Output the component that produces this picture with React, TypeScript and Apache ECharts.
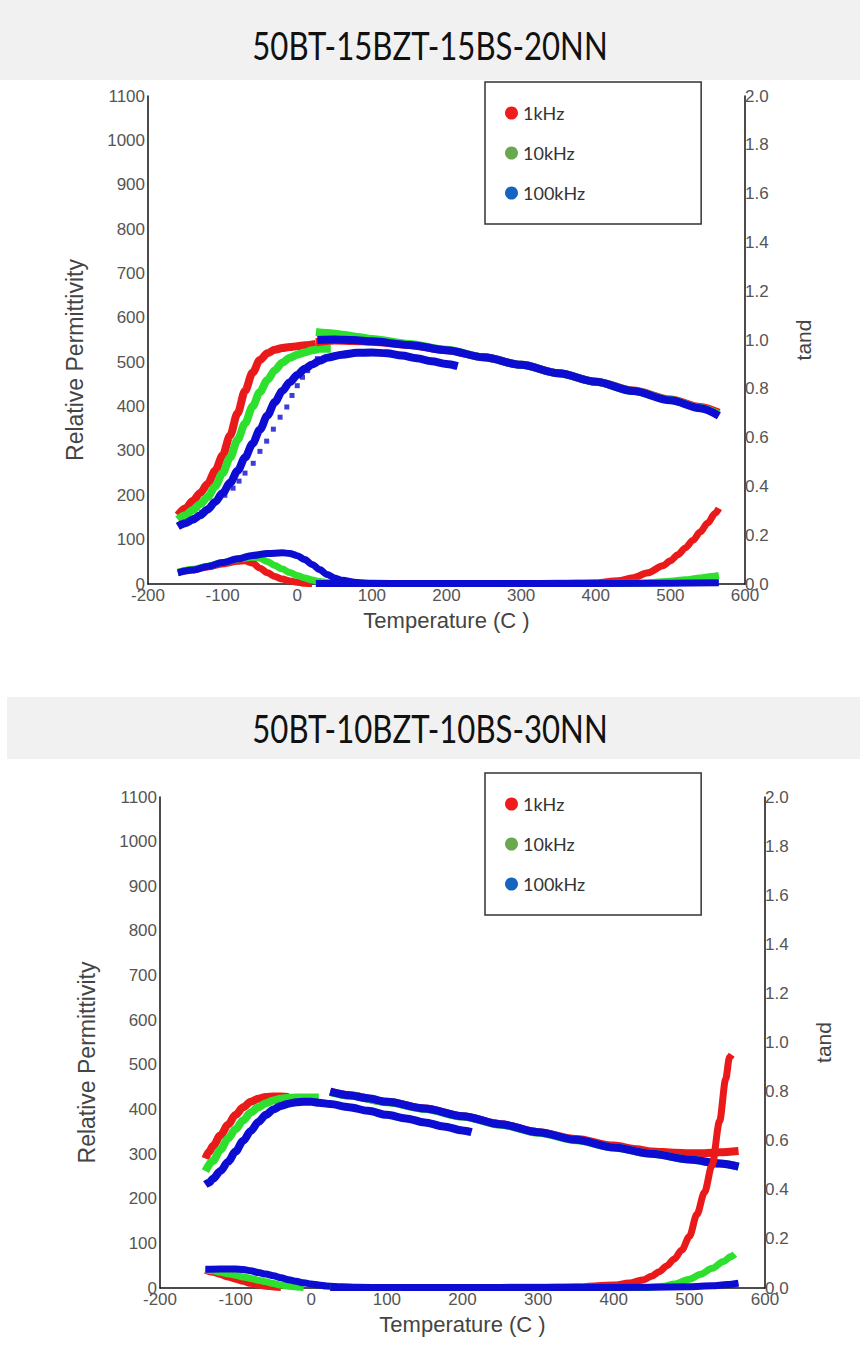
import React, { useEffect, useRef } from "react";
import * as echarts from "echarts";

// ---------- labels ----------
const TITLES = ["50BT-15BZT-15BS-20NN", "50BT-10BZT-10BS-30NN"];
const FREQS = ["1kHz", "10kHz", "100kHz"];
const LINE_COLORS = ["#ea1a1a", "#2ee02e", "#0c0cd2"];
const LEGEND_COLORS = ["#f01c1c", "#6aa84f", "#1565c0"];
const X_NAME = "Temperature (C )";
const Y_LEFT_NAME = "Relative Permittivity";
const Y_RIGHT_NAME = "tand";

// ---------- panel A : 50BT-15BZT-15BS-20NN ----------
const A_PERM_LOW_1K = [[-160,155],[-150,170],[-140,187],[-130,205],[-120,226],[-110,255],[-100,290],[-90,335],[-80,385],[-70,435],[-60,476],[-50,505],[-40,520],[-30,528],[-20,532],[-10,534],[0,536],[10,538],[25,541]];
const A_PERM_LOW_10K = [[-160,145],[-150,155],[-140,167],[-130,180],[-120,196],[-110,220],[-100,250],[-90,285],[-80,325],[-70,362],[-60,400],[-50,433],[-40,460],[-30,482],[-20,499],[-10,510],[0,517],[10,522],[20,527],[30,530],[45,530]];
const A_PERM_LOW_100K = [[-160,130],[-150,137],[-140,145],[-130,155],[-120,168],[-110,185],[-100,205],[-90,228],[-80,255],[-70,285],[-60,316],[-50,348],[-40,380],[-30,410],[-20,435],[-10,455],[0,471],[10,485],[20,495],[30,503],[40,510],[60,517],[80,521],[100,522],[120,520],[140,515],[160,509],[180,502],[200,496],[215,491]];
const A_PERM_DOTS_100K = [[-140,150],[-128,162],[-118,172],[-108,186],[-97,200],[-86,216],[-78,232],[-70,250],[-59,272],[-50,299],[-41,322],[-32,349],[-23,376],[-14,399],[-7,425],[0,447],[7,466],[14,481],[20,496],[27,508]];
const A_PERM_HIGH_1K = [[25,545],[50,549],[75,548],[100,546],[150,539],[200,527],[250,511],[300,494],[350,475],[400,456],[450,436],[500,416],[540,399],[565,386]];
const A_PERM_HIGH_10K = [[25,568],[40,566],[60,562],[80,557],[100,552],[150,541],[200,528],[250,511],[300,494],[350,475],[400,456],[450,435],[500,415],[540,397],[565,382]];
const A_PERM_HIGH_100K = [[27,550],[50,551],[75,550],[100,547],[150,539],[200,527],[250,511],[300,494],[350,475],[400,456],[450,435],[500,414],[540,396],[565,379]];
const A_TAND_LOW_1K = [[-160,0.048],[-140,0.058],[-120,0.07],[-100,0.082],[-80,0.093],[-70,0.095],[-60,0.086],[-50,0.065],[-40,0.046],[-30,0.031],[-20,0.02],[-10,0.012],[0,0.007],[10,0.003],[20,0.001]];
const A_TAND_LOW_10K = [[-160,0.048],[-140,0.06],[-120,0.073],[-100,0.088],[-80,0.102],[-60,0.11],[-50,0.106],[-40,0.092],[-30,0.076],[-20,0.061],[-10,0.047],[0,0.035],[10,0.025],[20,0.016],[30,0.01],[40,0.006],[50,0.003]];
const A_TAND_LOW_100K = [[-160,0.046],[-140,0.057],[-120,0.072],[-100,0.088],[-80,0.103],[-60,0.117],[-40,0.125],[-20,0.128],[-10,0.125],[0,0.116],[10,0.1],[20,0.08],[30,0.059],[40,0.039],[50,0.025],[60,0.015],[80,0.006],[100,0.003],[150,0.002],[215,0.002]];
const A_TAND_HIGH_1K = [[25,0.002],[100,0.002],[200,0.002],[300,0.002],[350,0.003],[400,0.005],[430,0.013],[450,0.026],[470,0.046],[490,0.075],[500,0.095],[510,0.12],[520,0.148],[530,0.178],[540,0.213],[550,0.25],[560,0.29],[565,0.31]];
const A_TAND_HIGH_10K = [[25,0.002],[400,0.002],[460,0.004],[480,0.007],[500,0.011],[520,0.017],[540,0.025],[555,0.031],[565,0.035]];
const A_TAND_HIGH_100K = [[25,0.002],[300,0.002],[500,0.003],[565,0.005]];

// ---------- panel B : 50BT-10BZT-10BS-30NN ----------
const B_PERM_LOW_1K = [[-140,290],[-135,305],[-130,318],[-120,342],[-110,366],[-100,388],[-90,405],[-80,417],[-70,424],[-60,428],[-50,429],[-40,429],[-30,428]];
const B_PERM_LOW_10K = [[-140,262],[-130,285],[-120,310],[-110,335],[-100,356],[-90,376],[-80,393],[-70,405],[-60,414],[-50,420],[-40,424],[-30,426],[-20,427],[-10,427],[0,427],[10,427]];
const B_PERM_LOW_100K = [[-140,232],[-135,236],[-130,245],[-120,262],[-110,283],[-100,306],[-90,330],[-80,352],[-70,372],[-60,388],[-50,400],[-40,408],[-30,413],[-20,416],[-10,417],[0,417],[10,415],[25,412],[50,405],[75,397],[100,388],[125,380],[150,371],[175,362],[200,353],[212,349]];
const B_PERM_HIGH_1K = [[25,440],[50,432],[100,417],[150,402],[200,385],[250,367],[300,349],[350,334],[400,319],[430,311],[450,306],[480,303],[500,302],[520,302],[540,304],[565,307]];
const B_PERM_HIGH_10K = [[25,439],[50,431],[100,416],[150,401],[200,384],[250,366],[300,348],[350,331],[400,315],[450,301],[500,288],[540,279],[565,272]];
const B_PERM_HIGH_100K = [[25,440],[50,432],[75,425],[100,417],[150,402],[200,385],[250,367],[300,349],[350,332],[400,315],[450,301],[500,288],[540,279],[565,272]];
const B_TAND_LOW_1K = [[-140,0.072],[-130,0.064],[-120,0.055],[-110,0.045],[-100,0.036],[-90,0.027],[-80,0.019],[-70,0.012],[-60,0.007],[-50,0.004],[-40,0.002]];
const B_TAND_LOW_10K = [[-140,0.074],[-130,0.07],[-120,0.064],[-110,0.058],[-100,0.052],[-90,0.045],[-80,0.039],[-70,0.032],[-60,0.025],[-50,0.018],[-40,0.012],[-30,0.007],[-20,0.004],[-10,0.002]];
const B_TAND_LOW_100K = [[-140,0.076],[-120,0.077],[-100,0.077],[-90,0.075],[-80,0.07],[-70,0.063],[-60,0.057],[-50,0.05],[-40,0.042],[-30,0.034],[-20,0.027],[-10,0.021],[0,0.016],[10,0.012],[20,0.008],[40,0.005],[60,0.003],[100,0.002],[212,0.002]];
const B_TAND_HIGH_1K = [[25,0.002],[200,0.002],[300,0.003],[350,0.005],[400,0.012],[420,0.02],[440,0.034],[450,0.048],[460,0.066],[470,0.09],[480,0.118],[490,0.155],[500,0.21],[510,0.3],[520,0.39],[530,0.5],[540,0.68],[548,0.85],[553,0.94],[556,0.95]];
const B_TAND_HIGH_10K = [[25,0.002],[440,0.002],[466,0.007],[480,0.016],[500,0.036],[515,0.056],[530,0.08],[545,0.108],[555,0.128],[560,0.138]];
const B_TAND_HIGH_100K = [[25,0.002],[400,0.002],[500,0.005],[530,0.009],[550,0.014],[565,0.02]];

const PANELS = [
  {
    permLow: [A_PERM_LOW_1K, A_PERM_LOW_10K, A_PERM_LOW_100K],
    permHigh: [A_PERM_HIGH_1K, A_PERM_HIGH_10K, A_PERM_HIGH_100K],
    tandLow: [A_TAND_LOW_1K, A_TAND_LOW_10K, A_TAND_LOW_100K],
    tandHigh: [A_TAND_HIGH_1K, A_TAND_HIGH_10K, A_TAND_HIGH_100K],
    dots: A_PERM_DOTS_100K as number[][] | null,
  },
  {
    permLow: [B_PERM_LOW_1K, B_PERM_LOW_10K, B_PERM_LOW_100K],
    permHigh: [B_PERM_HIGH_1K, B_PERM_HIGH_10K, B_PERM_HIGH_100K],
    tandLow: [B_TAND_LOW_1K, B_TAND_LOW_10K, B_TAND_LOW_100K],
    tandHigh: [B_TAND_HIGH_1K, B_TAND_HIGH_10K, B_TAND_HIGH_100K],
    dots: null as number[][] | null,
  },
];

// ---------- layout ----------
const GRIDS = [
  { left: 148, top: 96, width: 597, height: 488 },
  { left: 160, top: 797, width: 605, height: 491 },
];
const BANDS = [
  { y: 0, h: 80, ty: 45 },
  { y: 697, h: 62, ty: 728 },
];
const LEGEND_TOPS = [82, 773];

const LABEL_FONT = "'Liberation Sans', Arial, sans-serif";
const LABEL_COLOR = "#555";

function lineSeries(name: string, color: string, data: number[][], gi: number, yi: number, width = 8) {
  return {
    type: "line",
    name,
    data,
    xAxisIndex: gi,
    yAxisIndex: yi,
    symbol: "none",
    showSymbol: false,
    smooth: 0.3,
    smoothMonotone: "x",
    silent: true,
    lineStyle: { color, width, cap: "butt", join: "round" },
    itemStyle: { color },
  };
}

export default function App() {
  const ref = useRef<HTMLDivElement>(null);

  useEffect(() => {
    if (!ref.current) return;
    const chart = echarts.init(ref.current, undefined, { renderer: "svg" });

    const xAxis: any[] = [];
    const yAxis: any[] = [];
    const series: any[] = [];
    const legend: any[] = [];
    const graphic: any[] = [];

    GRIDS.forEach((g, gi) => {
      xAxis.push({
        type: "value",
        gridIndex: gi,
        min: -200,
        max: 600,
        interval: 100,
        axisLine: { show: true, onZero: false, lineStyle: { color: "#111", width: 1.5 } },
        axisTick: { show: false },
        splitLine: { show: false },
        axisLabel: { color: LABEL_COLOR, fontSize: 17, fontFamily: LABEL_FONT, margin: 3, formatter: (v: number) => String(v) },
        name: X_NAME,
        nameLocation: "middle",
        nameGap: 25,
        nameTextStyle: { color: "#444", fontSize: 22, fontFamily: LABEL_FONT },
      });
      yAxis.push({
        type: "value",
        gridIndex: gi,
        position: "left",
        min: 0,
        max: 1100,
        interval: 100,
        axisLine: { show: true, onZero: false, lineStyle: { color: "#111", width: 1.5 } },
        axisTick: { show: false },
        splitLine: { show: false },
        axisLabel: { color: LABEL_COLOR, fontSize: 17, fontFamily: LABEL_FONT, margin: 3, formatter: (v: number) => String(v) },
        name: Y_LEFT_NAME,
        nameLocation: "middle",
        nameGap: 62,
        nameRotate: 90,
        nameTextStyle: { color: "#444", fontSize: 23, fontFamily: LABEL_FONT, padding: [0, 40, 0, 0] },
      });
      yAxis.push({
        type: "value",
        gridIndex: gi,
        position: "right",
        min: 0,
        max: 2,
        interval: 0.2,
        axisLine: { show: true, onZero: false, lineStyle: { color: "#111", width: 1.5 } },
        axisTick: { show: false },
        splitLine: { show: false },
        axisLabel: {
          color: LABEL_COLOR,
          fontSize: 17,
          fontFamily: LABEL_FONT,
          margin: 0,
          formatter: (v: number) => v.toFixed(1),
        },
        name: Y_RIGHT_NAME,
        nameLocation: "middle",
        nameGap: 48,
        nameRotate: 90,
        nameTextStyle: { color: "#444", fontSize: 21, fontFamily: LABEL_FONT },
      });

      const p = PANELS[gi];
      const yl = gi * 2;
      const yr = gi * 2 + 1;
      // permittivity
      for (let i = 0; i < 3; i++) series.push(lineSeries(FREQS[i], LINE_COLORS[i], p.permLow[i], gi, yl));
      for (let i = 0; i < 3; i++) series.push(lineSeries(FREQS[i], LINE_COLORS[i], p.permHigh[i], gi, yl));
      if (p.dots) {
        series.push({
          type: "scatter",
          name: FREQS[2],
          data: p.dots,
          xAxisIndex: gi,
          yAxisIndex: yl,
          symbol: "rect",
          symbolSize: 5,
          silent: true,
          itemStyle: { color: LINE_COLORS[2] },
        });
      }
      // tan delta
      for (let i = 0; i < 3; i++) series.push(lineSeries(FREQS[i], LINE_COLORS[i], p.tandLow[i], gi, yr, 7));
      for (let i = 0; i < 3; i++) series.push(lineSeries(FREQS[i], LINE_COLORS[i], p.tandHigh[i], gi, yr, 7));

      legend.push({
        left: 485,
        top: LEGEND_TOPS[gi],
        orient: "vertical",
        selectedMode: false,
        data: FREQS.map((n, i) => ({ name: n, icon: "circle", itemStyle: { color: LEGEND_COLORS[i] } })),
        itemWidth: 13,
        itemHeight: 13,
        itemGap: 22,
        itemTextGap: 14,
        padding: [22, 116, 22, 20],
        borderColor: "#333",
        borderWidth: 1.5,
        backgroundColor: "#fff",
        textStyle: { fontFamily: "Lato, 'Open Sans', sans-serif", fontSize: 18, color: "#333" },
      });

      const b = BANDS[gi];
      graphic.push({
        type: "rect",
        z: -10,
        shape: { x: gi === 0 ? 0 : 7, y: b.y, width: 860, height: b.h },
        style: { fill: "#f1f1f1" },
        silent: true,
      });
      graphic.push({
        type: "text",
        x: 430,
        y: b.ty,
        scaleX: 0.82,
        silent: true,
        style: {
          text: TITLES[gi],
          font: "38px Lato, 'Open Sans', sans-serif",
          fill: "#111",
          align: "center",
          verticalAlign: "middle",
        },
      });
    });

    chart.setOption({
      animation: false,
      backgroundColor: "#fff",
      grid: GRIDS,
      xAxis,
      yAxis,
      legend,
      graphic,
      series,
    });

    return () => chart.dispose();
  }, []);

  return (
    <div
      ref={ref}
      style={{ position: "absolute", left: 0, top: 0, width: 860, height: 1352, background: "#fff" }}
    />
  );
}
